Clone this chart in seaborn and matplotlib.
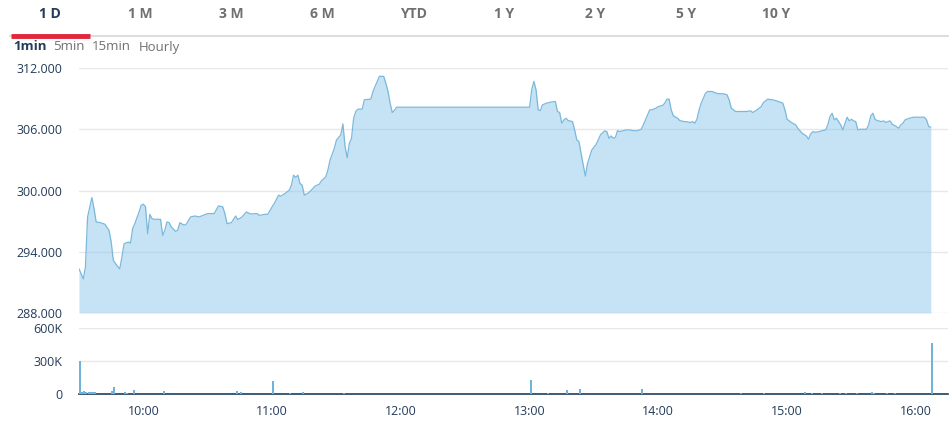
import pandas as pd
import matplotlib.pyplot as plt
import matplotlib.dates as mdates
import seaborn as sns

# Intraday price (1min view)
times = [
    "09:30", "09:32", "09:33", "09:34", "09:36", "09:37", "09:38", "09:40", "09:42", "09:44",
    "09:45", "09:46", "09:48", "09:49", "09:50", "09:51", "09:53", "09:54", "09:55", "09:56",
    "09:58", "09:59", "10:00", "10:01", "10:02", "10:03", "10:04", "10:05", "10:08", "10:09",
    "10:10", "10:11", "10:12", "10:13", "10:15", "10:16", "10:17", "10:19", "10:20", "10:22",
    "10:24", "10:26", "10:27", "10:30", "10:33", "10:35", "10:37", "10:38", "10:39", "10:41",
    "10:43", "10:44", "10:46", "10:48", "10:50", "10:53", "10:54", "10:57", "10:58", "11:00",
    "11:01", "11:03", "11:04", "11:06", "11:08", "11:09", "11:10", "11:11", "11:12", "11:13",
    "11:14", "11:15", "11:17", "11:18", "11:20", "11:22", "11:23", "11:25", "11:26", "11:27",
    "11:29", "11:30", "11:32", "11:33", "11:34", "11:35", "11:36", "11:37", "11:38", "11:39",
    "11:40", "11:42", "11:43", "11:46", "11:47", "11:49", "11:50", "11:52", "11:53", "11:54",
    "11:55", "11:56", "11:57", "11:58", "13:00", "13:01", "13:02", "13:03", "13:04", "13:05",
    "13:06", "13:08", "13:10", "13:12", "13:13", "13:14", "13:15", "13:16", "13:17", "13:18",
    "13:20", "13:21", "13:22", "13:23", "13:24", "13:25", "13:26", "13:27", "13:28", "13:29",
    "13:31", "13:32", "13:33", "13:35", "13:36", "13:37", "13:38", "13:39", "13:40", "13:41",
    "13:42", "13:45", "13:47", "13:48", "13:50", "13:52", "13:53", "13:54", "13:55", "13:56",
    "13:57", "13:59", "14:00", "14:02", "14:03", "14:04", "14:05", "14:06", "14:07", "14:09",
    "14:10", "14:12", "14:13", "14:15", "14:16", "14:17", "14:18", "14:19", "14:20", "14:22",
    "14:23", "14:25", "14:27", "14:28", "14:30", "14:32", "14:33", "14:34", "14:36", "14:37",
    "14:39", "14:41", "14:43", "14:44", "14:46", "14:48", "14:49", "14:51", "14:53", "14:55",
    "14:58", "14:59", "15:00", "15:02", "15:04", "15:05", "15:07", "15:09", "15:10", "15:11",
    "15:12", "15:13", "15:15", "15:16", "15:18", "15:19", "15:20", "15:21", "15:22", "15:23",
    "15:24", "15:25", "15:26", "15:27", "15:28", "15:29", "15:30", "15:31", "15:32", "15:33",
    "15:34", "15:37", "15:38", "15:39", "15:40", "15:41", "15:42", "15:44", "15:45", "15:46",
    "15:47", "15:48", "15:49", "15:51", "15:52", "15:53", "15:54", "15:55", "15:57", "15:59",
    "16:02", "16:04", "16:05", "16:06", "16:07",
]
prices = [
    292.33, 291.34, 292.50, 297.41, 299.31, 298.23, 296.92, 296.85, 296.70, 296.10,
    294.95, 293.15, 292.56, 292.33, 293.48, 294.79, 294.95, 294.85, 296.26, 296.75,
    297.90, 298.56, 298.66, 298.40, 295.77, 297.67, 297.25, 297.18, 297.18, 295.60,
    296.10, 296.92, 296.85, 296.43, 296.00, 296.10, 296.85, 296.60, 296.70, 297.41,
    297.50, 297.41, 297.50, 297.74, 297.74, 298.49, 298.40, 297.74, 296.75, 296.85,
    297.50, 297.15, 297.41, 297.90, 297.70, 297.74, 297.57, 297.67, 297.67, 298.40,
    298.72, 299.54, 299.44, 299.70, 300.03, 300.52, 301.50, 301.28, 301.50, 300.69,
    300.52, 299.54, 299.77, 299.97, 300.43, 300.62, 300.95, 301.34, 302.00, 302.98,
    304.13, 304.95, 305.44, 306.52, 304.30, 303.21, 304.62, 305.11, 307.08, 307.74,
    307.97, 307.97, 308.89, 308.95, 309.70, 310.69, 311.18, 311.18, 310.52, 309.70,
    308.56, 307.64, 307.84, 308.16, 308.16, 309.87, 310.69, 309.87, 307.90, 307.84,
    308.39, 308.56, 308.66, 308.72, 307.74, 307.64, 306.59, 306.92, 307.08, 306.85,
    306.75, 305.93, 304.95, 304.79, 303.64, 302.49, 301.41, 302.66, 303.31, 303.97,
    304.52, 304.95, 305.44, 305.84, 305.77, 305.11, 305.34, 305.11, 305.20, 305.87,
    305.77, 305.93, 305.93, 305.87, 305.84, 306.00, 306.43, 306.92, 307.41, 307.90,
    307.90, 308.07, 308.23, 308.33, 308.56, 308.95, 308.95, 307.90, 307.31, 307.08,
    306.85, 306.75, 306.75, 306.66, 306.75, 306.59, 306.98, 307.90, 308.56, 309.54,
    309.70, 309.70, 309.54, 309.48, 309.48, 309.38, 308.89, 308.07, 307.74, 307.74,
    307.74, 307.74, 307.80, 307.64, 307.90, 308.23, 308.62, 308.95, 308.89, 308.79,
    308.56, 307.90, 306.98, 306.66, 306.43, 306.10, 305.61, 305.34, 305.02, 305.54,
    305.77, 305.70, 305.77, 305.84, 305.93, 306.43, 307.25, 307.57, 306.92, 307.08,
    306.75, 306.43, 305.93, 306.59, 307.18, 306.82, 306.98, 306.82, 306.75, 305.93,
    306.00, 306.00, 306.43, 307.31, 307.57, 306.98, 306.85, 306.75, 306.82, 306.66,
    306.75, 306.82, 306.49, 306.26, 306.10, 306.43, 306.59, 306.92, 307.08, 307.18,
    307.18, 307.18, 306.92, 306.26, 306.20,
]

# Volume bars (thousands of shares)
vol_times = [
    "09:30", "09:31", "09:32", "09:33", "09:34", "09:35", "09:36", "09:37", "09:45", "09:46",
    "09:51", "09:52", "09:55", "10:09", "10:43", "10:45", "11:00", "11:08", "11:14", "11:33",
    "13:00", "13:08", "13:17", "13:23", "13:52", "14:38", "14:49", "15:08", "15:11", "15:16",
    "15:24", "15:27", "15:32", "15:39", "15:40", "15:46", "15:50", "16:07",
]
volumes_k = [
    300, 22, 25, 19, 16, 14, 19, 14, 28, 62,
    16, 12, 37, 28, 28, 19, 115, 9, 19, 9,
    131, 9, 37, 47, 47, 9, 9, 19, 9, 9,
    9, 9, 9, 19, 9, 9, 9, 465,
]

range_tabs = ["1 D", "1 M", "3 M", "6 M", "YTD", "1 Y", "2 Y", "5 Y", "10 Y"]
interval_tabs = ["1min", "5min", "15min", "Hourly"]
price_ticks = [288, 294, 300, 306, 312]
vol_ticks = [0, 300, 600]
hour_ticks = ["10:00", "11:00", "12:00", "13:00", "14:00", "15:00", "16:00"]

navy = "#243c5a"
grey = "#707070"

sns.set_theme(style="white")
plt.rcParams["font.family"] = ["Open Sans", "DejaVu Sans"]

df = pd.DataFrame({"time": pd.to_datetime(times, format="%H:%M"), "price": prices})
vdf = pd.DataFrame({"time": pd.to_datetime(vol_times, format="%H:%M"), "vol": [v * 1000 for v in volumes_k]})
t0 = pd.Timestamp("1900-01-01 09:30")
t1 = pd.Timestamp("1900-01-01 16:15")

fig = plt.figure(figsize=(9.53, 4.26), dpi=100)

# price panel
ax = fig.add_axes([79 / 953, 1 - 313 / 426, 869 / 953, 245 / 426])
ax.fill_between(df["time"], df["price"], 288, color="#8cc8ea", alpha=0.5, linewidth=0, zorder=2)
sns.lineplot(data=df, x="time", y="price", ax=ax, color="#7ab8dc", linewidth=0.9, zorder=3)
ax.set_xlim(t0, t1)
ax.set_ylim(288, 312)
ax.set_yticks(price_ticks)
ax.set_yticklabels([f"{p:.3f}" for p in price_ticks])
ax.set_xticks([])
ax.set_xlabel("")
ax.set_ylabel("")
ax.grid(axis="y", color="#e8e8e8", linewidth=1)
ax.set_axisbelow(True)
for s in ax.spines.values():
    s.set_visible(False)
ax.tick_params(axis="y", length=0, pad=12, labelsize=9, labelcolor=navy)

# volume panel
vax = fig.add_axes([79 / 953, 1 - 394 / 426, 869 / 953, 66 / 426])
vax.bar(vdf["time"], vdf["vol"], width=0.9 / 1440, align="edge", color="#6fb2da", linewidth=0, zorder=3)
vax.set_xlim(t0, t1)
vax.set_ylim(0, 600000)
vax.set_yticks([v * 1000 for v in vol_ticks])
vax.set_yticklabels(["0", "300K", "600K"])
vax.set_xticks(pd.to_datetime(hour_ticks, format="%H:%M"))
vax.xaxis.set_major_formatter(mdates.DateFormatter("%H:%M"))
vax.grid(axis="y", color="#e8e8e8", linewidth=1)
vax.set_axisbelow(True)
for s in ["top", "right", "left"]:
    vax.spines[s].set_visible(False)
vax.spines["bottom"].set_color("#1d3f5f")
vax.spines["bottom"].set_linewidth(1.2)
vax.tick_params(axis="y", length=0, pad=12, labelsize=9, labelcolor=navy)
vax.tick_params(axis="x", direction="in", length=5, width=1, color="#1d3f5f",
                pad=8, labelsize=9, labelcolor=navy)

# range tabs and interval selector
for i, lab in enumerate(range_tabs):
    fig.text((50 + i * 90.8) / 953, 1 - 14 / 426, lab, ha="center", va="center",
             fontsize=10, fontweight="bold", color=navy if i == 0 else grey)
fig.add_artist(plt.Line2D([10 / 953, 948 / 953], [1 - 35.5 / 426] * 2, color="#dddddd", linewidth=1.5))
fig.add_artist(plt.Line2D([11 / 953, 90 / 953], [1 - 35.5 / 426] * 2, color="#e3263b", linewidth=3.5,
                          solid_capstyle="butt"))
xs = [13, 53, 92, 139]
for x, lab in zip(xs, interval_tabs):
    fig.text(x / 953, 1 - 47 / 426, lab, ha="left", va="center", fontsize=9.5,
             fontweight="bold" if lab == "1min" else "normal", color=navy if lab == "1min" else grey)

fig.savefig("out.png", dpi=100)
